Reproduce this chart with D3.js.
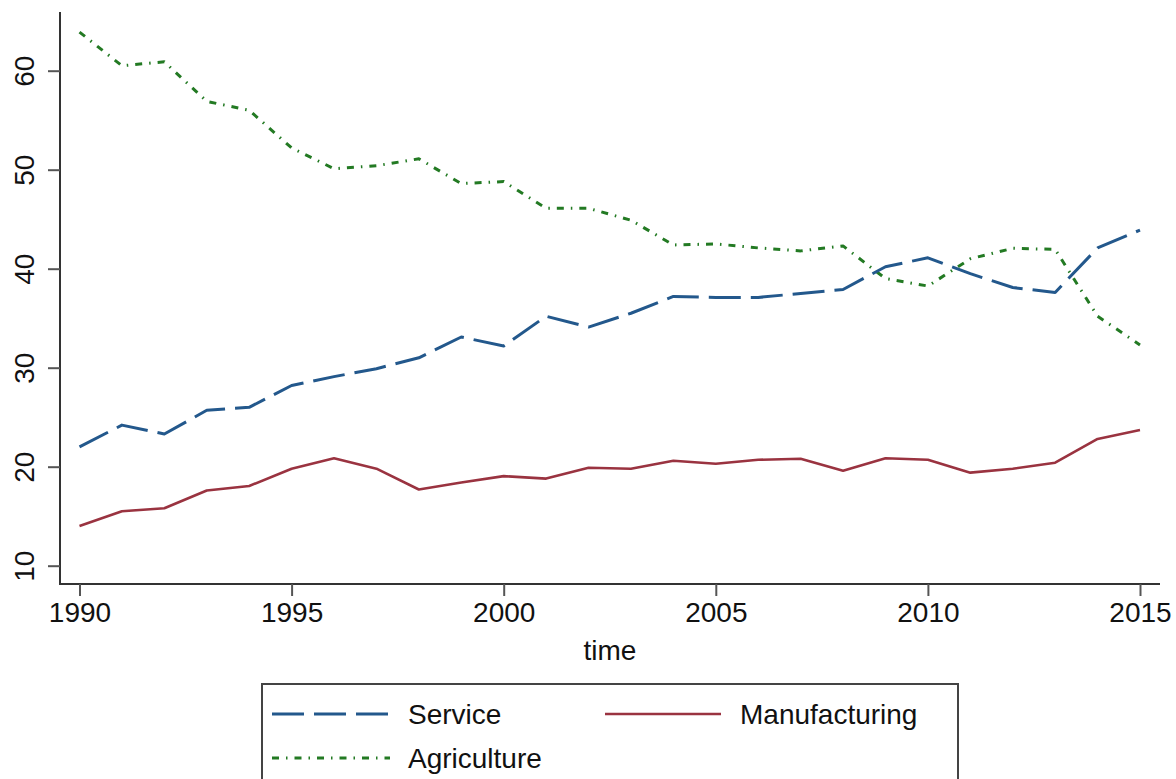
<!DOCTYPE html>
<html>
<head>
<meta charset="utf-8">
<script src="https://cdn.jsdelivr.net/npm/d3@7"></script>
<style>
  html, body { margin: 0; padding: 0; background: #fff; }
  svg { display: block; }
  text { font-family: "Liberation Sans", Arial, Helvetica, sans-serif; fill: #111; }
</style>
</head>
<body>
<svg id="chart" width="1176" height="779"></svg>
<script>
const years = d3.range(1990, 2016);
const service = [22.0, 24.2, 23.3, 25.7, 26.0, 28.2, 29.1, 29.9, 31.0, 33.1, 32.2, 35.2, 34.1, 35.5, 37.2, 37.1, 37.1, 37.5, 37.9, 40.2, 41.1, 39.5, 38.1, 37.6, 42.1, 43.9];
const manufacturing = [14.0, 15.5, 15.8, 17.6, 18.05, 19.8, 20.85, 19.8, 17.7, 18.4, 19.05, 18.8, 19.9, 19.8, 20.6, 20.3, 20.7, 20.8, 19.6, 20.85, 20.7, 19.4, 19.8, 20.4, 22.8, 23.7];
const agriculture = [63.9, 60.5, 60.9, 56.9, 56.0, 52.2, 50.1, 50.4, 51.1, 48.6, 48.8, 46.1, 46.1, 44.9, 42.4, 42.5, 42.1, 41.8, 42.3, 39.0, 38.25, 41.0, 42.06, 41.95, 35.2, 32.3];
const yTicks = [10, 20, 30, 40, 50, 60];
const xTicks = [1990, 1995, 2000, 2005, 2010, 2015];
const seriesNames = ["Service", "Manufacturing", "Agriculture"];

const svg = d3.select("#chart");
const x = d3.scaleLinear().domain([1990, 2015]).range([79.5, 1140]);
const y = d3.scaleLinear().domain([10, 60]).range([565.7, 70.7]);
const FS = "28px";

const styles = {
  Service: { color: "#23588c", width: 3, dash: "32,10" },
  Manufacturing: { color: "#9a3340", width: 2.6, dash: null },
  Agriculture: { color: "#237a23", width: 3, dash: "7,7,1.5,7" }
};
const seriesData = { Service: service, Manufacturing: manufacturing, Agriculture: agriculture };

// Axes lines
svg.append("line").attr("x1", 60).attr("x2", 60).attr("y1", 12).attr("y2", 585)
  .attr("stroke", "#333").attr("stroke-width", 2);
svg.append("line").attr("x1", 59).attr("x2", 1160).attr("y1", 584).attr("y2", 584)
  .attr("stroke", "#333").attr("stroke-width", 2);

// Y axis
const yAxis = d3.axisLeft(y).tickValues(yTicks).tickSize(12).tickPadding(0).tickFormat(d3.format("d"));
const gy = svg.append("g").attr("transform", "translate(60,0)").call(yAxis);
gy.select(".domain").remove();
gy.selectAll(".tick line").attr("stroke", "#555").attr("stroke-width", 2);
gy.selectAll(".tick text").remove();
gy.selectAll(".tick").append("text")
  .attr("transform", "translate(-36,0) rotate(-90)")
  .attr("text-anchor", "middle")
  .attr("dy", "0.35em")
  .style("font-size", FS)
  .style("fill", "#111")
  .text(d => d);

// X axis
const xAxis = d3.axisBottom(x).tickValues(xTicks).tickSize(12).tickPadding(6).tickFormat(d3.format("d"));
const gx = svg.append("g").attr("transform", "translate(0,584)").call(xAxis);
gx.select(".domain").remove();
gx.selectAll(".tick line").attr("stroke", "#555").attr("stroke-width", 2);
gx.selectAll(".tick text").style("font-size", FS).style("fill", "#111").attr("font-family", "Liberation Sans, Arial, sans-serif");

svg.append("text").attr("x", 610).attr("y", 660).attr("text-anchor", "middle")
  .style("font-size", FS).text("time");

// Lines
const line = d3.line().x((d, i) => x(years[i])).y(d => y(d));
["Agriculture", "Service", "Manufacturing"].forEach(name => {
  const s = styles[name];
  svg.append("path").datum(seriesData[name])
    .attr("d", line)
    .attr("fill", "none")
    .attr("stroke", s.color)
    .attr("stroke-width", s.width)
    .attr("stroke-dasharray", s.dash)
    .attr("stroke-linejoin", "round");
});

// Legend
svg.append("rect").attr("x", 262).attr("y", 684).attr("width", 696).attr("height", 120)
  .attr("fill", "none").attr("stroke", "#444").attr("stroke-width", 2);
const legendItems = [
  { name: "Service", lx: 272, ly: 714 },
  { name: "Manufacturing", lx: 605, ly: 714 },
  { name: "Agriculture", lx: 272, ly: 758 }
];
legendItems.forEach(it => {
  const s = styles[it.name];
  const w = it.name === "Manufacturing" ? 116 : 118;
  svg.append("line").attr("x1", it.lx).attr("x2", it.lx + w).attr("y1", it.ly).attr("y2", it.ly)
    .attr("stroke", s.color).attr("stroke-width", s.width)
    .attr("stroke-dasharray", s.dash);
  svg.append("text").attr("x", it.lx + w + (it.name === "Manufacturing" ? 19 : 18)).attr("y", it.ly)
    .attr("dy", "0.35em").style("font-size", FS).text(it.name);
});
</script>
</body>
</html>
